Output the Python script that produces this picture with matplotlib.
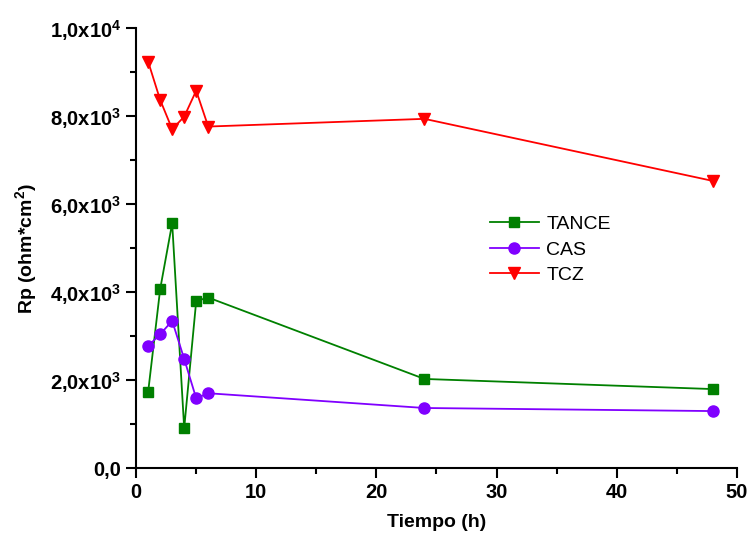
import numpy as np
import matplotlib
matplotlib.use('Agg')
import matplotlib.pyplot as plt
from matplotlib.ticker import MultipleLocator, FuncFormatter

plt.rcParams['font.family'] = ['Liberation Sans', 'DejaVu Sans']
plt.rcParams['mathtext.fontset'] = 'custom'
plt.rcParams['mathtext.rm'] = 'Liberation Sans:bold'
plt.rcParams['mathtext.bf'] = 'Liberation Sans:bold'
plt.rcParams['mathtext.it'] = 'Liberation Sans:bold'

# Tiempo (h)
tiempo = [1, 2, 3, 4, 5, 6, 24, 48]

# Rp (ohm*cm^2)
tance = [1735, 4070, 5570, 910, 3800, 3880, 2030, 1800]
cas = [2780, 3045, 3350, 2485, 1590, 1705, 1370, 1300]
tcz = [9240, 8370, 7705, 7990, 8580, 7765, 7940, 6530]

labels = ['TANCE', 'CAS', 'TCZ']
colors = ['#008000', '#8000ff', '#ff0000']
markers = ['s', 'o', 'v']
msizes = [6.5, 8, 8]

fig = plt.figure(figsize=(7.48, 5.42), dpi=100)
ax = fig.add_axes([0.182, 0.136, 0.803, 0.812])

for ys, lab, c, m, ms in zip([tance, cas, tcz], labels, colors, markers, msizes):
    ax.plot(tiempo, ys, color=c, marker=m, markersize=ms, linewidth=1.3, label=lab)

ax.set_xlim(0, 50)
ax.set_ylim(0, 10000)
ax.xaxis.set_major_locator(MultipleLocator(10))
ax.xaxis.set_minor_locator(MultipleLocator(5))
ax.yaxis.set_major_locator(MultipleLocator(2000))
ax.yaxis.set_minor_locator(MultipleLocator(1000))


def yfmt(v, pos):
    if v <= 0:
        return '0,0'
    e = int(np.floor(np.log10(v)))
    mant = v / 10 ** e
    return r'$%s\mathrm{x10}^{%d}$' % (('%.1f' % mant).replace('.', '{,}'), e)


ax.yaxis.set_major_formatter(FuncFormatter(yfmt))

for s in ['top', 'right']:
    ax.spines[s].set_visible(False)
for s in ['left', 'bottom']:
    ax.spines[s].set_linewidth(1.5)

ax.tick_params(which='major', direction='out', length=7, width=1.5, labelsize=14.5)
ax.tick_params(which='minor', direction='out', length=4, width=1.5)
for t in ax.get_xticklabels() + ax.get_yticklabels():
    t.set_fontweight('bold')

ax.set_xlabel('Tiempo (h)', fontsize=14, fontweight='bold', labelpad=9)
ax.set_ylabel(r'Rp (ohm*cm$^2$)', fontsize=14, fontweight='bold', labelpad=8)

ax.legend(loc='upper left', bbox_to_anchor=(0.56, 0.615), frameon=False,
          fontsize=14, handlelength=2.5, labelspacing=0.42, handletextpad=0.4)

fig.savefig('out.png', dpi=100)
